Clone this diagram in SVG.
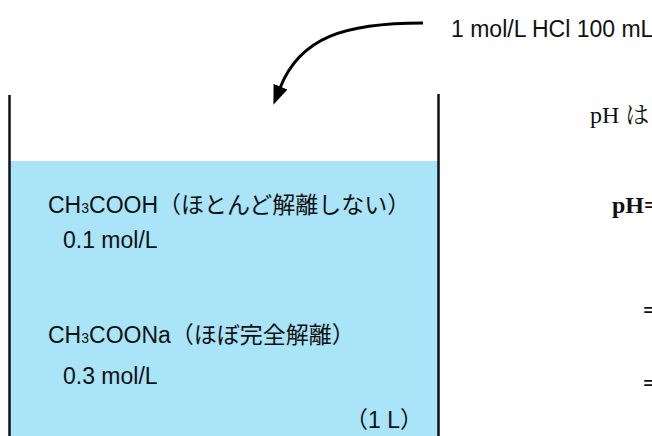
<svg xmlns="http://www.w3.org/2000/svg" width="652" height="436" viewBox="0 0 652 436">
<style>
.g{font-family:"Liberation Sans","Noto Sans CJK JP",sans-serif;font-size:23px;fill:#111}
.s{font-family:"Liberation Serif","Noto Serif CJK JP","Noto Sans CJK JP",serif;font-size:24px;fill:#111}
.b{font-weight:bold;font-size:24px}
.wall{stroke:#111;stroke-width:2.5;fill:none}
.conn{stroke:#000;stroke-width:3;fill:none}
</style>
<defs>
<marker id="ah" markerWidth="6.5" markerHeight="5" refX="0.5" refY="2.5" orient="auto" markerUnits="strokeWidth">
<path d="M0,0 L6.5,2.5 L0,5 Z" fill="#000"/>
</marker>
</defs>
<g id="beaker">
<rect x="10" y="161" width="428" height="275" fill="#a9e4f8"/>
<line class="wall" x1="9.5" y1="95" x2="9.5" y2="436"/>
<line class="wall" x1="438.5" y1="94" x2="438.5" y2="436"/>
</g>
<g id="acetic">
<text class="g" x="48" y="213">CH<tspan font-size="14">3</tspan>COOH（ほとんど解離しない）</text>
<text class="g" x="63" y="248">0.1 mol/L</text>
</g>
<g id="acetate">
<text class="g" x="48" y="343">CH<tspan font-size="14">3</tspan>COONa（ほぼ完全解離）</text>
<text class="g" x="63" y="384">0.3 mol/L</text>
</g>
<text id="volume" class="g" x="345" y="428">（1 L）</text>
<g id="hcl">
<text class="g" x="451" y="37" font-size="22">1 mol/L HCl 100 mL</text>
</g>
<g id="connectors">
<path class="conn" d="M423,23 C345,23 300,37 280,88" marker-end="url(#ah)"/>
</g>
<g id="ph">
<text class="s" x="590" y="123">pH は</text>
<text class="s b" x="612" y="213">pH=</text>
<text class="s b" x="643" y="318">=</text>
<text class="s b" x="643" y="391">=</text>
</g>
</svg>
